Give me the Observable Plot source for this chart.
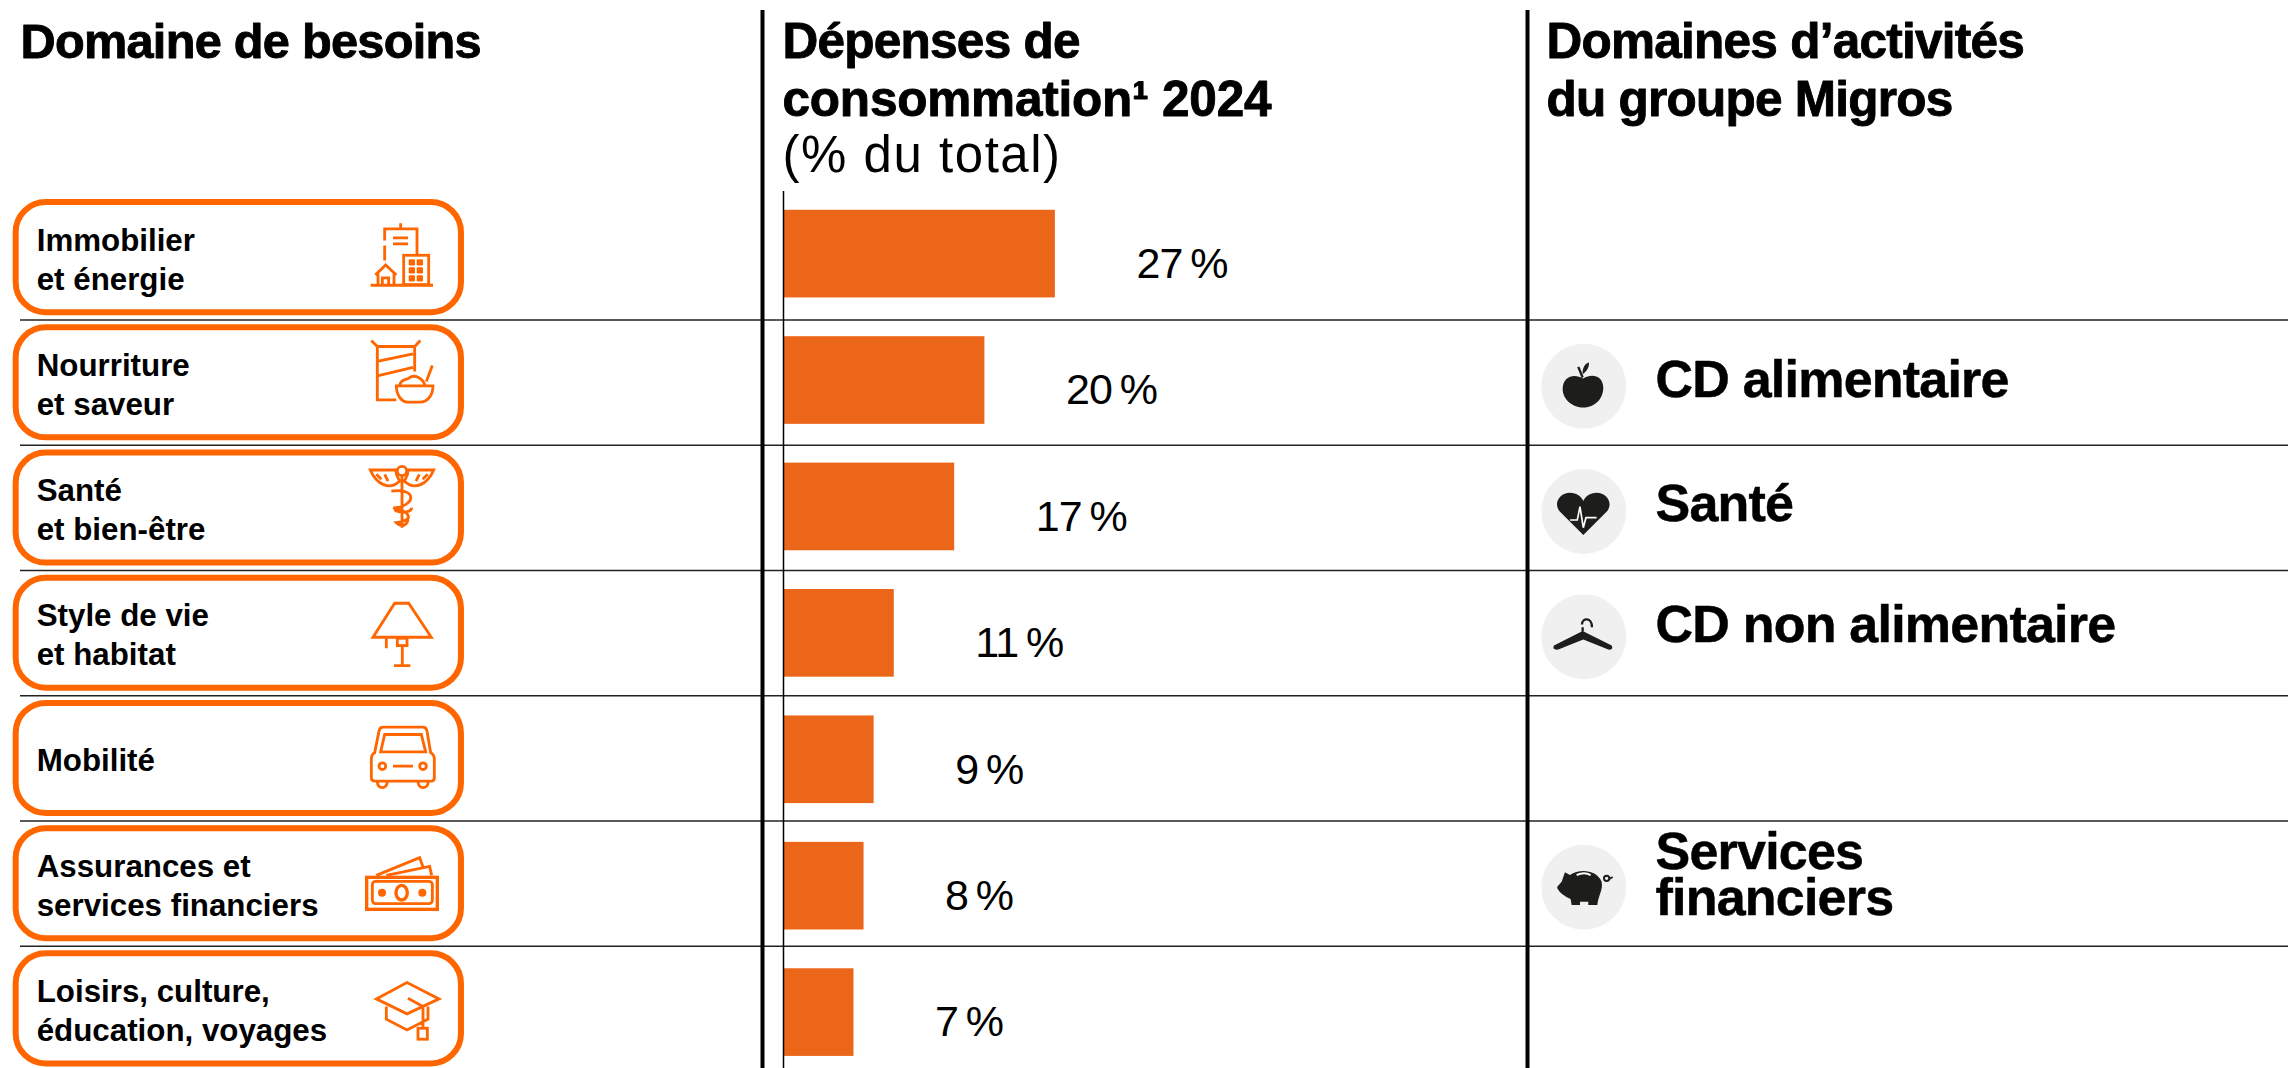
<!DOCTYPE html>
<html lang="fr">
<head>
<meta charset="utf-8">
<title>Domaine de besoins</title>
<script src="https://cdn.jsdelivr.net/npm/d3@7"></script>
<script src="https://cdn.jsdelivr.net/npm/@observablehq/plot@0.6"></script>
<style>
  html, body { margin: 0; padding: 0; background: #fff; overflow: hidden; }
  .head { letter-spacing: -0.015em; }
  .head-wide { letter-spacing: -0.004em; }
  .sub { letter-spacing: 0.03em; }
  .val { letter-spacing: -0.02em; }
</style>
</head>
<body>
<div id="chart"></div>
<script>
const categories = [
  "Immobilier\net énergie",
  "Nourriture\net saveur",
  "Santé\net bien-être",
  "Style de vie\net habitat",
  "Mobilité",
  "Assurances et\nservices financiers",
  "Loisirs, culture,\néducation, voyages"
];
const shares = [27, 20, 17, 11, 9, 8, 7];
const activityRows = [categories[1], categories[2], categories[3], categories[5]];
const activityNames = ["CD alimentaire", "Santé", "CD non alimentaire", "Services\nfinanciers"];
const activityTextShift = [3, 1.5, -2.5, -2.5];

const rows = categories.map((category, i) => ({category, share: shares[i]}));
const activities = activityRows.map((category, i) => ({category, name: activityNames[i], shift: activityTextShift[i]}));

const ORANGE = "#FF6600", BAR = "#EB6619", INK = "#1d1d1b";
const SANS = "'Liberation Sans', Arial, sans-serif";

// Pictograms traced in a 3x space, [centerX, centerY, svg markup]
const outlineIcons = [
  [1207, 228, `<path d="M1155 240V195M1155 180V145H1252V222M1203 128V145M1180 172H1225M1180 190H1225M1127 283L1158 253L1190 283M1135 278V312M1183 278V312M1148 312V292H1167V312M1113 314H1300"/><rect x="1212" y="224" width="75" height="88"/><g fill="${ORANGE}" stroke="none"><rect x="1227" y="236" width="19" height="19" rx="4"/><rect x="1251" y="236" width="19" height="19" rx="4"/><rect x="1227" y="260" width="19" height="19" rx="4"/><rect x="1251" y="260" width="19" height="19" rx="4"/><rect x="1227" y="284" width="19" height="19" rx="4"/><rect x="1251" y="284" width="19" height="19" rx="4"/></g>`],
  [1207, 611, `<path d="M1115 487L1133 505H1245L1262 487M1133 505V665H1190M1245 505V580M1133 550L1240 527M1133 593L1240 568M1190 623H1300C1300 650 1285 672 1260 672H1225C1205 672 1190 650 1190 623ZM1200 620C1205 600 1225 605 1230 598C1245 588 1270 600 1275 620M1280 610L1298 562"/>`],
  [1207, 983, `<path d="M1112 872H1190C1186 885 1195 895 1200 905C1170 935 1130 915 1112 872ZM1302 872H1224C1228 885 1219 895 1214 905C1244 935 1284 915 1302 872ZM1207 890V1045M1175 935C1250 925 1250 975 1190 985C1170 1000 1240 1005 1235 985M1180 985C1240 1000 1240 1025 1190 1030C1205 1045 1225 1040 1225 1015M1130 885L1145 900M1155 885L1165 905M1284 885L1269 900M1259 885L1249 905"/><circle cx="1207" cy="875" r="14"/>`],
  [1207, 220, `<path d="M1120 235L1185 133H1227L1295 235ZM1160 237V268M1208 260V320M1183 320H1232"/><rect x="1193" y="238" width="29" height="22"/>`],
  [1207, 594, `<path d="M1125 580L1138 515Q1140 503 1150 503H1270Q1280 503 1282 515L1293 580Q1304 585 1304 600V655Q1304 665 1295 665H1125Q1115 665 1115 655V600Q1115 585 1125 580ZM1143 577L1155 525H1265L1278 577ZM1180 620H1240M1133 668C1135 690 1160 690 1163 668M1255 668C1258 690 1283 690 1286 668"/><circle cx="1148" cy="620" r="10"/><circle cx="1270" cy="620" r="10"/>`],
  [1207, 967, `<rect x="1101" y="951" width="212" height="96" stroke-width="10"/><rect x="1118" y="963" width="180" height="67" rx="10"/><circle cx="1147" cy="997" r="12" fill="${ORANGE}" stroke="none"/><circle cx="1268" cy="997" r="12" fill="${ORANGE}" stroke="none"/><ellipse cx="1206" cy="997" rx="17" ry="22" stroke-width="10"/><path d="M1130 945L1260 892L1272 925M1160 945L1290 918L1296 945"/>`],
  [1207, 1344, `<path d="M1130 1317L1222 1268L1318 1317L1222 1362ZM1160 1340V1378L1222 1410L1285 1378V1345M1225 1315L1270 1340V1405M1285 1340V1380"/><rect x="1255" y="1405" width="28" height="33"/>`]
];
const solidIcons = [
  [250, 257, `<path d="M250 235C225 220 190 225 188 265C188 300 220 322 250 322C280 322 310 300 310 262C308 225 275 220 250 235ZM248 215C250 200 255 190 267 187C268 200 262 212 248 222Z"/><path d="M248 232L235 200" fill="none" stroke="${INK}" stroke-width="7"/>`],
  [250, 635, `<path d="M250 707L178 635C160 610 180 580 210 580C230 580 245 592 250 605C255 592 270 580 290 580C320 580 340 610 322 635Z"/><path d="M210 662H232L240 622L250 685L258 655H290" fill="none" stroke="#fff" stroke-width="5"/>`],
  [250, 1012, `<path d="M248 996L335 1040Q342 1054 325 1052L250 1022L175 1052Q155 1054 162 1040Z"/><path d="M248 998V985M276 985C277 955 246 955 246 977" fill="none" stroke="${INK}" stroke-width="7"/>`],
  [250, 325, `<path d="M172 325L185 310L195 282L210 290C240 270 290 275 305 310C310 335 295 350 292 380H265V370H240V380H215L212 362C195 355 180 345 172 330Z"/><path d="M230 290C245 283 260 283 272 290" fill="none" stroke="#fff" stroke-width="6"/><circle cx="320" cy="300" r="8" fill="none" stroke="${INK}" stroke-width="6"/><path d="M328 302L338 296" fill="none" stroke="${INK}" stroke-width="6"/>`]
];

// An icon column: each picture is placed in its row through the y scale.
function iconMark(keys, icons, cx, dy, attrs) {
  return (index, {y}) => {
    const g = d3.create("svg:g");
    const half = y.bandwidth ? y.bandwidth() / 2 : 0;
    keys.forEach((key, i) => {
      const [ix, iy, markup] = icons[i];
      const node = g.append("g")
        .attr("transform", `translate(${cx},${y(key) + half + dy}) scale(${1 / 3}) translate(${-ix},${-iy})`);
      Object.entries(attrs).forEach(([k, v]) => node.attr(k, v));
      node.html(markup);
    });
    return g.node();
  };
}

const header = (text, dx, baseline, extra = {}) => Plot.text([text], {
  text: d => d, frameAnchor: "top-left", textAnchor: "start", lineAnchor: "bottom",
  dx, dy: baseline, fontFamily: SANS, fontWeight: 700, fontSize: 49.5, fill: "#000",
  stroke: "#000", strokeWidth: 0.9, className: "head", ...extra
});

const barDrift = 1.2;
const boxLeft = -76.2, boxRight = -31.98, iconCircleX = 79.47;

const chart = Plot.plot({
  width: 2288,
  height: 1068,
  marginTop: 10, marginRight: 0, marginBottom: 0, marginLeft: 20,
  style: {background: "#fff"},
  x: {domain: [0, 100], range: [783, 1790], axis: null},
  y: {domain: categories, range: [191, 1067.5], paddingInner: 0.3, paddingOuter: 0.15, round: false, axis: null},
  marks: [
    // frame rules
    Plot.ruleY(categories.slice(0, -1), {dy: 66, stroke: "#222", strokeWidth: 1.5}),
    Plot.ruleX([0], {dx: -21, stroke: "#000", strokeWidth: 4}),
    Plot.ruleX([0], {dx: 744, stroke: "#000", strokeWidth: 4}),

    // left column
    header("Domaine de besoins", 0, 47, {fontSize: 48.7}),
    Plot.barX(rows, {
      y: "category", x1: () => boxLeft, x2: () => boxRight, dy: 3.5,
      insetTop: -11.2, insetBottom: -11.2, rx: 30, ry: 30,
      fill: "#fff", stroke: ORANGE, strokeWidth: 6
    }),
    Plot.text(rows, {
      y: "category", text: "category", frameAnchor: "left", textAnchor: "start", dx: 16.2, dy: 3.5,
      fontFamily: SANS, fontWeight: 700, fontSize: 31.3, lineHeight: 1.25, fill: "#000"
    }),
    iconMark(categories, outlineIcons, 402, 3, {fill: "none", stroke: ORANGE, "stroke-width": 8.5}),

    // bars
    header("Dépenses de", 762, 47),
    header("consommation¹ 2024", 762, 105, {className: "head-wide"}),
    header("(% du total)", 762, 161, {fontWeight: 400, fontSize: 51, stroke: "none", className: "sub"}),
    ...rows.map((r, i) => Plot.barX([r], {x: "share", y: "category", dy: i * barDrift, fill: BAR})),
    Plot.ruleX([0], {insetTop: 181, stroke: "#000", strokeWidth: 1.5}),
    ...rows.map((r, i) => Plot.text([r], {
      x: "share", y: "category", text: d => `${d.share}\u2009%`, textAnchor: "start", dx: 81, dy: 10 + i * barDrift,
      fontFamily: SANS, fontSize: 43, fill: "#000", className: "val"
    })),

    // right column
    header("Domaines d’activités", 1526, 47),
    header("du groupe Migros", 1526, 105),
    Plot.dot(activities, {x: () => iconCircleX, y: "category", dy: 7, r: 42.5, fill: "#f0f0f0"}),
    iconMark(activityRows, solidIcons, 1583.3, 7, {fill: INK}),
    ...activities.map(a => Plot.text([a], {
      y: "category", text: "name", frameAnchor: "left", textAnchor: "start", dx: 1635, dy: a.shift,
      fontFamily: SANS, fontWeight: 700, fontSize: 52, lineHeight: 0.88, fill: "#000",
      stroke: "#000", strokeWidth: 0.5, className: "head"
    }))
  ]
});
document.getElementById("chart").append(chart);
</script>
</body>
</html>
